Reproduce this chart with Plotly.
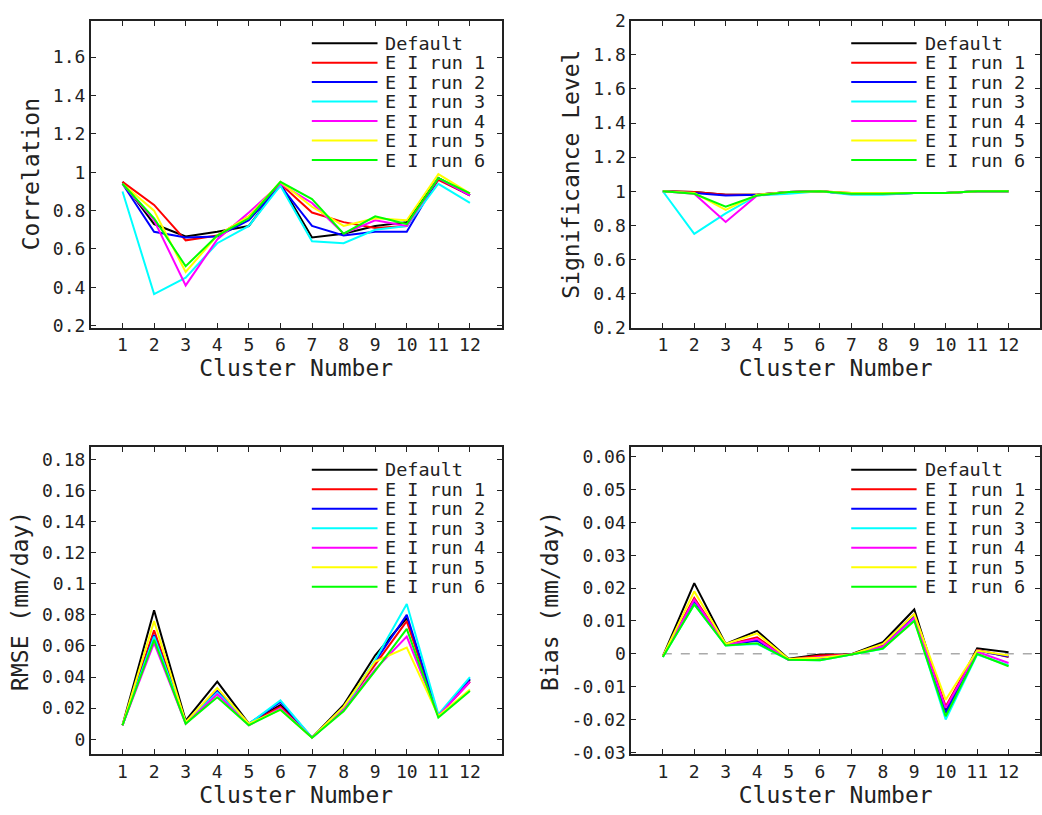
import numpy as np
import plotly.graph_objects as go
from plotly.subplots import make_subplots

# Cluster indices on the x axis
clusters = list(range(1, 13))

series_names = ["Default", "E I run 1", "E I run 2", "E I run 3",
                "E I run 4", "E I run 5", "E I run 6"]
series_colors = ["#000000", "#ff0000", "#0000ff", "#00ffff",
                 "#ff00ff", "#ffff00", "#00ff00"]

# Correlation per cluster
corr_default = [0.95, 0.73, 0.665, 0.69, 0.72, 0.94, 0.66, 0.68, 0.72, 0.74, 0.97, 0.88]
corr_run1 = [0.95, 0.83, 0.645, 0.67, 0.77, 0.94, 0.79, 0.74, 0.71, 0.72, 0.96, 0.88]
corr_run2 = [0.94, 0.69, 0.66, 0.665, 0.75, 0.93, 0.72, 0.67, 0.69, 0.69, 0.97, 0.88]
corr_run3 = [0.90, 0.365, 0.45, 0.63, 0.72, 0.93, 0.64, 0.63, 0.70, 0.72, 0.94, 0.84]
corr_run4 = [0.94, 0.75, 0.41, 0.65, 0.79, 0.94, 0.84, 0.68, 0.75, 0.72, 0.97, 0.88]
corr_run5 = [0.94, 0.80, 0.48, 0.67, 0.77, 0.95, 0.82, 0.72, 0.76, 0.75, 0.99, 0.89]
corr_run6 = [0.94, 0.76, 0.51, 0.67, 0.76, 0.95, 0.86, 0.68, 0.77, 0.73, 0.97, 0.89]

# Significance level per cluster
sig_default = [1.0, 0.995, 0.98, 0.98, 0.995, 1.0, 0.985, 0.985, 0.99, 0.99, 1.0, 1.0]
sig_run1 = [1.0, 0.995, 0.98, 0.98, 0.995, 1.0, 0.99, 0.99, 0.99, 0.99, 1.0, 1.0]
sig_run2 = [1.0, 0.99, 0.975, 0.98, 0.995, 1.0, 0.985, 0.985, 0.99, 0.99, 1.0, 1.0]
sig_run3 = [1.0, 0.75, 0.87, 0.975, 0.985, 1.0, 0.98, 0.98, 0.99, 0.99, 1.0, 1.0]
sig_run4 = [1.0, 0.985, 0.82, 0.975, 0.995, 1.0, 0.985, 0.985, 0.99, 0.99, 1.0, 1.0]
sig_run5 = [1.0, 0.99, 0.89, 0.98, 0.995, 1.0, 0.99, 0.99, 0.99, 0.99, 1.0, 1.0]
sig_run6 = [1.0, 0.985, 0.91, 0.975, 0.995, 1.0, 0.985, 0.985, 0.99, 0.99, 1.0, 1.0]

# RMSE (mm/day) per cluster
rmse_default = [0.009, 0.083, 0.012, 0.037, 0.010, 0.022, 0.001, 0.022, 0.054, 0.078, 0.015, 0.038]
rmse_run1 = [0.009, 0.070, 0.011, 0.031, 0.010, 0.021, 0.001, 0.020, 0.048, 0.076, 0.015, 0.037]
rmse_run2 = [0.009, 0.067, 0.011, 0.031, 0.010, 0.024, 0.001, 0.020, 0.050, 0.080, 0.015, 0.039]
rmse_run3 = [0.009, 0.066, 0.011, 0.030, 0.010, 0.025, 0.001, 0.019, 0.051, 0.087, 0.016, 0.040]
rmse_run4 = [0.009, 0.062, 0.010, 0.029, 0.009, 0.020, 0.001, 0.019, 0.045, 0.066, 0.015, 0.037]
rmse_run5 = [0.009, 0.076, 0.011, 0.033, 0.010, 0.019, 0.001, 0.021, 0.050, 0.059, 0.015, 0.032]
rmse_run6 = [0.009, 0.064, 0.010, 0.027, 0.009, 0.019, 0.001, 0.018, 0.044, 0.071, 0.014, 0.031]

# Bias (mm/day) per cluster
bias_default = [-0.0008, 0.0215, 0.003, 0.007, -0.0015, -0.0002, -0.0001, 0.0035, 0.0135, -0.017, 0.0017, 0.0005]
bias_run1 = [-0.0008, 0.017, 0.0027, 0.005, -0.0017, -0.0005, -0.0002, 0.0028, 0.012, -0.016, 0.0012, -0.001]
bias_run2 = [-0.0008, 0.016, 0.0027, 0.004, -0.0018, -0.0015, -0.0002, 0.0022, 0.0115, -0.018, 0.001, -0.0008]
bias_run3 = [-0.001, 0.015, 0.0025, 0.003, -0.0018, -0.002, -0.0002, 0.0015, 0.0105, -0.020, -0.0002, -0.0035]
bias_run4 = [-0.0008, 0.0165, 0.0027, 0.0045, -0.0018, -0.001, -0.0002, 0.0022, 0.011, -0.0165, 0.0006, -0.0028]
bias_run5 = [-0.0008, 0.019, 0.003, 0.0062, -0.0016, -0.0012, -0.0002, 0.003, 0.012, -0.014, 0.001, -0.0005]
bias_run6 = [-0.001, 0.015, 0.0025, 0.0032, -0.0018, -0.002, -0.0002, 0.0016, 0.010, -0.019, 0.0, -0.0038]

FONT = "DejaVu Sans Mono"
INK = "#222222"

panels = [
    dict(row=1, col=1, title="Correlation",
         series=[corr_default, corr_run1, corr_run2, corr_run3, corr_run4, corr_run5, corr_run6],
         yrange=[0.19, 1.79], ticks=(0.2, 1.6, 0.2)),
    dict(row=1, col=2, title="Significance Level",
         series=[sig_default, sig_run1, sig_run2, sig_run3, sig_run4, sig_run5, sig_run6],
         yrange=[0.2, 2.0], ticks=(0.2, 2.0, 0.2)),
    dict(row=2, col=1, title="RMSE (mm/day)",
         series=[rmse_default, rmse_run1, rmse_run2, rmse_run3, rmse_run4, rmse_run5, rmse_run6],
         yrange=[-0.0097, 0.1877], ticks=(0.0, 0.18, 0.02)),
    dict(row=2, col=2, title="Bias (mm/day)",
         series=[bias_default, bias_run1, bias_run2, bias_run3, bias_run4, bias_run5, bias_run6],
         yrange=[-0.0306, 0.0628], ticks=(-0.03, 0.06, 0.01)),
]

fig = make_subplots(rows=2, cols=2)

W, H = 1042, 815
col_dom = {1: [91 / W, 502 / W], 2: [632 / W, 1041 / W]}
row_dom = {1: [1 - 325 / H, 1 - 10 / H], 2: [1 - 763 / H, 1 - 448 / H]}

shapes = []
annotations = []

for idx, p in enumerate(panels, start=1):
    suffix = "" if idx == 1 else str(idx)
    for name, color, vals in zip(series_names, series_colors, p["series"]):
        fig.add_trace(go.Scatter(x=clusters, y=vals, mode="lines", name=name,
                                 line=dict(color=color, width=2),
                                 showlegend=False),
                      row=p["row"], col=p["col"])

    lo, hi, step = p["ticks"]
    tv = np.round(np.arange(lo, hi + step / 2, step), 4)
    tt = [f"{v:g}" for v in tv]

    axis_style = dict(showline=True, mirror="ticks", linecolor=INK, linewidth=2,
                      ticks="inside", ticklen=5, tickwidth=1, tickcolor=INK,
                      showgrid=False, zeroline=False,
                      tickfont=dict(family=FONT, size=18, color=INK))
    fig.update_xaxes(axis_style, row=p["row"], col=p["col"],
                     range=[0, 13], tickvals=clusters,
                     domain=col_dom[p["col"]],
                     title=dict(text="Cluster Number", standoff=0,
                                font=dict(family=FONT, size=23, color=INK)))
    fig.update_yaxes(axis_style, row=p["row"], col=p["col"],
                     range=p["yrange"], tickvals=tv, ticktext=tt,
                     domain=row_dom[p["row"]],
                     title=dict(text=p["title"], standoff=7,
                                font=dict(family=FONT, size=23, color=INK)))

    # zero reference line on the bias panel
    if p["title"].startswith("Bias"):
        shapes.append(dict(type="line", xref=f"x{suffix}", yref=f"y{suffix}",
                           x0=clusters[0], x1=13, y0=0, y1=0,
                           line=dict(color="#aaaaaa", width=1.5, dash="dash"),
                           layer="below"))

    # per-panel legend: short line sample followed by the series name
    for k, (name, color) in enumerate(zip(series_names, series_colors)):
        yk = 1 - (23 + 20 * k) / 315
        shapes.append(dict(type="line", xref=f"x{suffix} domain", yref=f"y{suffix} domain",
                           x0=0.538, x1=0.698, y0=yk, y1=yk,
                           line=dict(color=color, width=2)))
        annotations.append(dict(xref=f"x{suffix} domain", yref=f"y{suffix} domain",
                                x=0.715, y=yk, text=name, showarrow=False,
                                xanchor="left", yanchor="middle", valign="middle",
                                height=19, borderpad=0,
                                font=dict(family=FONT, size=18.5, color=INK)))

fig.update_layout(width=W, height=H, margin=dict(l=0, r=0, t=0, b=0),
                  paper_bgcolor="white", plot_bgcolor="white",
                  shapes=shapes, annotations=annotations,
                  font=dict(family=FONT, color=INK))

fig.write_html("out.html")
